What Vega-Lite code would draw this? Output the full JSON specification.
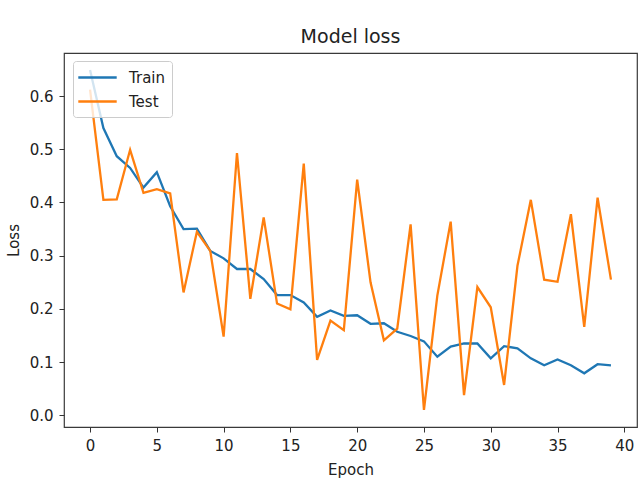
{
  "$schema": "https://vega.github.io/schema/vega-lite/v6.json",
  "autosize": {"type": "none"},
  "padding": {"left": 64, "top": 53, "right": 3, "bottom": 56},
  "width": 573,
  "height": 374,
  "title": {"text": "Model loss", "fontSize": 19, "fontWeight": "normal", "font": "DejaVu Sans", "color": "#222", "offset": 6},
  "datasets": {
    "train": [
      {"epoch": 0, "loss": 0.649}, {"epoch": 1, "loss": 0.540}, {"epoch": 2, "loss": 0.487}, {"epoch": 3, "loss": 0.465},
      {"epoch": 4, "loss": 0.428}, {"epoch": 5, "loss": 0.457}, {"epoch": 6, "loss": 0.393}, {"epoch": 7, "loss": 0.350},
      {"epoch": 8, "loss": 0.351}, {"epoch": 9, "loss": 0.309}, {"epoch": 10, "loss": 0.295}, {"epoch": 11, "loss": 0.275},
      {"epoch": 12, "loss": 0.275}, {"epoch": 13, "loss": 0.256}, {"epoch": 14, "loss": 0.226}, {"epoch": 15, "loss": 0.226},
      {"epoch": 16, "loss": 0.212}, {"epoch": 17, "loss": 0.185}, {"epoch": 18, "loss": 0.197}, {"epoch": 19, "loss": 0.187},
      {"epoch": 20, "loss": 0.188}, {"epoch": 21, "loss": 0.172}, {"epoch": 22, "loss": 0.173}, {"epoch": 23, "loss": 0.157},
      {"epoch": 24, "loss": 0.149}, {"epoch": 25, "loss": 0.139}, {"epoch": 26, "loss": 0.110}, {"epoch": 27, "loss": 0.129},
      {"epoch": 28, "loss": 0.135}, {"epoch": 29, "loss": 0.135}, {"epoch": 30, "loss": 0.107}, {"epoch": 31, "loss": 0.130},
      {"epoch": 32, "loss": 0.126}, {"epoch": 33, "loss": 0.107}, {"epoch": 34, "loss": 0.094}, {"epoch": 35, "loss": 0.105},
      {"epoch": 36, "loss": 0.094}, {"epoch": 37, "loss": 0.079}, {"epoch": 38, "loss": 0.096}, {"epoch": 39, "loss": 0.094}
    ],
    "test": [
      {"epoch": 0, "loss": 0.612}, {"epoch": 1, "loss": 0.405}, {"epoch": 2, "loss": 0.406}, {"epoch": 3, "loss": 0.499},
      {"epoch": 4, "loss": 0.418}, {"epoch": 5, "loss": 0.425}, {"epoch": 6, "loss": 0.417}, {"epoch": 7, "loss": 0.231},
      {"epoch": 8, "loss": 0.345}, {"epoch": 9, "loss": 0.309}, {"epoch": 10, "loss": 0.148}, {"epoch": 11, "loss": 0.493},
      {"epoch": 12, "loss": 0.219}, {"epoch": 13, "loss": 0.372}, {"epoch": 14, "loss": 0.210}, {"epoch": 15, "loss": 0.199},
      {"epoch": 16, "loss": 0.473}, {"epoch": 17, "loss": 0.104}, {"epoch": 18, "loss": 0.178}, {"epoch": 19, "loss": 0.160},
      {"epoch": 20, "loss": 0.443}, {"epoch": 21, "loss": 0.250}, {"epoch": 22, "loss": 0.141}, {"epoch": 23, "loss": 0.163},
      {"epoch": 24, "loss": 0.359}, {"epoch": 25, "loss": 0.010}, {"epoch": 26, "loss": 0.225}, {"epoch": 27, "loss": 0.364},
      {"epoch": 28, "loss": 0.038}, {"epoch": 29, "loss": 0.241}, {"epoch": 30, "loss": 0.203}, {"epoch": 31, "loss": 0.057},
      {"epoch": 32, "loss": 0.281}, {"epoch": 33, "loss": 0.405}, {"epoch": 34, "loss": 0.255}, {"epoch": 35, "loss": 0.251},
      {"epoch": 36, "loss": 0.378}, {"epoch": 37, "loss": 0.166}, {"epoch": 38, "loss": 0.409}, {"epoch": 39, "loss": 0.255}
    ]
  },
  "data": {"name": "train"},
  "transform": [
    {"calculate": "'Train'", "as": "series"}
  ],
  "layer": [
    {
      "mark": {"type": "line", "strokeWidth": 2.3, "clip": true},
      "encoding": {
        "x": {"field": "epoch", "type": "quantitative"},
        "y": {"field": "loss", "type": "quantitative"},
        "color": {"field": "series", "type": "nominal"}
      }
    },
    {
      "data": {"name": "test"},
      "transform": [{"calculate": "'Test'", "as": "series"}],
      "mark": {"type": "line", "strokeWidth": 2.3, "clip": true},
      "encoding": {
        "x": {"field": "epoch", "type": "quantitative"},
        "y": {"field": "loss", "type": "quantitative"},
        "color": {"field": "series", "type": "nominal"}
      }
    }
  ],
  "encoding": {
    "x": {
      "field": "epoch", "type": "quantitative", "title": "Epoch",
      "scale": {"domain": [-1.95, 40.95], "nice": false, "zero": false},
      "axis": {"values": [0, 5, 10, 15, 20, 25, 30, 35, 40], "grid": false, "labelPadding": 6, "titlePadding": 9}
    },
    "y": {
      "field": "loss", "type": "quantitative", "title": "Loss",
      "scale": {"domain": [-0.022, 0.681], "nice": false, "zero": false},
      "axis": {"values": [0, 0.1, 0.2, 0.3, 0.4, 0.5, 0.6], "format": ".1f", "grid": false, "labelPadding": 6, "titlePadding": 8}
    },
    "color": {
      "field": "series", "type": "nominal",
      "scale": {"domain": ["Train", "Test"], "range": ["#1f77b4", "#ff7f0e"]},
      "legend": {
        "title": null, "orient": "none", "legendX": 9, "legendY": 8,
        "symbolType": "M-2.4,0H2.4", "symbolSize": 256, "symbolStrokeWidth": 2.3,
        "symbolOffset": 8, "labelOffset": 22,
        "labelFontSize": 15, "labelFont": "DejaVu Sans", "labelColor": "#222",
        "strokeColor": "#cccccc", "fillColor": "rgba(255,255,255,0.8)", "cornerRadius": 3,
        "padding": 7, "rowPadding": 6
      }
    }
  },
  "config": {
    "view": {"stroke": "#3a3a3a", "strokeWidth": 1.2},
    "axis": {
      "domain": false, "ticks": true, "tickColor": "#333", "tickSize": 5, "tickWidth": 1,
      "labelFont": "DejaVu Sans", "labelFontSize": 15, "labelColor": "#222",
      "titleFont": "DejaVu Sans", "titleFontSize": 15, "titleFontWeight": "normal", "titleColor": "#222"
    }
  }
}
